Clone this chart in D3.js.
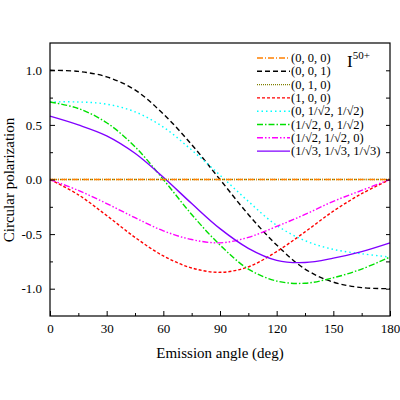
<!DOCTYPE html><html><head><meta charset="utf-8"><script src="https://cdn.jsdelivr.net/npm/d3@7"></script>
<style>body{margin:0;background:#fff}svg text{font-family:"Liberation Serif","Times New Roman",serif !important}</style></head><body><svg id="c" width="400" height="400"></svg>
<script>
const angles=[0,15,30,45,60,75,90,105,120,135,150,165,180];
const s000=[0,0,0,0,0,0,0,0,0,0,0,0,0];
const s001=[1,0.99,0.94,0.82,0.6,0.32,0,-0.32,-0.6,-0.82,-0.94,-0.99,-1];
const s010=[0,0,0,0,0,0,0,0,0,0,0,0,0];
const s100=[0,-0.14,-0.33,-0.53,-0.7,-0.81,-0.85,-0.8,-0.66,-0.48,-0.29,-0.13,0];
const s011=[0.71,0.71,0.69,0.62,0.48,0.27,0.04,-0.2,-0.42,-0.56,-0.64,-0.68,-0.71];
const s101=[0.71,0.65,0.52,0.3,0,-0.32,-0.6,-0.82,-0.93,-0.95,-0.9,-0.82,-0.71];
const s110=[0,-0.1,-0.22,-0.35,-0.47,-0.55,-0.58,-0.53,-0.43,-0.32,-0.2,-0.1,0];
const s111=[0.58,0.5,0.4,0.24,0.02,-0.22,-0.45,-0.63,-0.74,-0.76,-0.72,-0.66,-0.58];
const names=["(0, 0, 0)","(0, 0, 1)","(0, 1, 0)","(1, 0, 0)","(0, 1/\u221A2, 1/\u221A2)","(1/\u221A2, 0, 1/\u221A2)","(1/\u221A2, 1/\u221A2, 0)","(1/\u221A3, 1/\u221A3, 1/\u221A3)"];
const colors=["#ff8000","#000000","#808000","#ff0000","#00ffff","#00e000","#ff00ff","#8000ff"];
const dashes=["6,2,1,2","5,3","1,1","3,2","1.5,3","6,2,1.5,2","6,2,1.5,2,1.5,2",null];
const series=[s000,s001,s010,s100,s011,s101,s110,s111];
const svg=d3.select("#c");
const x=d3.scaleLinear().domain([0,180]).range([50,390]);
const y=d3.scaleLinear().domain([-1.25,1.25]).range([316,43]);
const line=d3.line().x((d,i)=>x(angles[i])).y(d=>y(d)).curve(d3.curveCatmullRom);
const draw=(i)=>svg.append("path").datum(series[i]).attr("d",line).attr("fill","none").attr("stroke",colors[i]).attr("stroke-width",1.4).attr("stroke-dasharray",dashes[i]);
[1,3,4,5,6,7,2,0].forEach(draw);
const gx=svg.append("g").attr("transform","translate(0,316)");
gx.call(d3.axisBottom(x).tickValues([0,30,60,90,120,150,180]).tickSize(-5).tickPadding(8));
gx.call(g=>g.append("g").call(d3.axisBottom(x).tickValues([15,45,75,105,135,165]).tickSize(-3).tickFormat("")));
const gy=svg.append("g").attr("transform","translate(50,0)");
gy.call(d3.axisLeft(y).tickValues([-1,-0.5,0,0.5,1]).tickFormat(d=>d3.format(".1f")(d).replace("\u2212","-")).tickSize(-5).tickPadding(8));
gy.call(g=>g.append("g").call(d3.axisLeft(y).tickValues([-0.75,-0.25,0.25,0.75]).tickSize(-3).tickFormat("")));
const gr=svg.append("g").attr("transform","translate(390,0)");
gr.call(d3.axisRight(y).tickValues([-1,-0.75,-0.5,-0.25,0,0.25,0.5,0.75,1]).tickSize(-4).tickFormat(""));
svg.selectAll(".domain").remove();
svg.selectAll(".tick text").attr("font-size",13).attr("fill","#000");
svg.append("rect").attr("x",50).attr("y",43).attr("width",340).attr("height",273).attr("fill","none").attr("stroke","#000").attr("stroke-width",1.2);
svg.append("text").attr("x",220).attr("y",358).attr("text-anchor","middle").attr("font-size",15).text("Emission angle (deg)");
svg.append("text").attr("transform","translate(14,180) rotate(-90)").attr("text-anchor","middle").attr("font-size",15).text("Circular polarization");
const lg=svg.append("g");
names.forEach((n,i)=>{const yy=58+i*13.3;
lg.append("line").attr("x1",257).attr("x2",290).attr("y1",yy).attr("y2",yy).attr("stroke",colors[i]).attr("stroke-width",1.4).attr("stroke-dasharray",dashes[i]);
lg.append("text").attr("x",291).attr("y",yy+4).attr("font-size",12.5).text(n);});
const t=svg.append("text").attr("x",347).attr("y",67).attr("font-size",17).text("I");
t.append("tspan").attr("dy",-8).attr("font-size",11).text("50+");
</script></body></html>
